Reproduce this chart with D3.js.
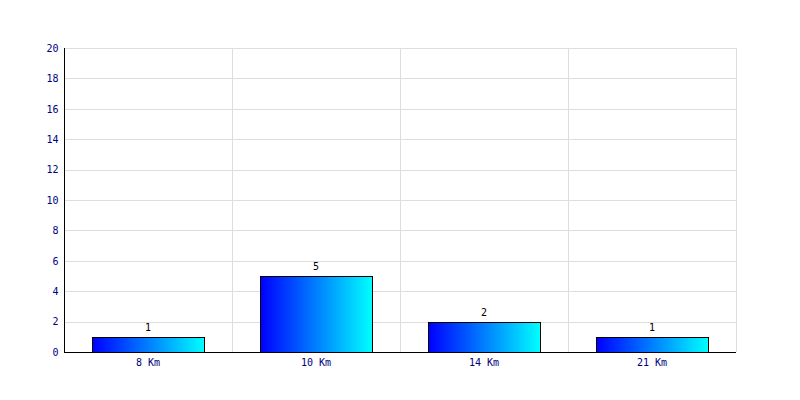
<!DOCTYPE html>
<html><head><meta charset="utf-8">
<script src="https://cdn.jsdelivr.net/npm/d3@7"></script>
<style>body{margin:0;background:#fff}svg{display:block}</style>
</head><body><svg id="c" width="800" height="400"></svg>
<script>
const categories = ["8 Km", "10 Km", "14 Km", "21 Km"];
const values = [1, 5, 2, 1];
const yTicks = [0, 2, 4, 6, 8, 10, 12, 14, 16, 18, 20];

const svg = d3.select("#c");
const L = 64, R = 736, T = 48, B = 352;
const x = d3.scaleBand().domain(categories).range([L, R]).paddingInner(0).paddingOuter(0);
const y = d3.scaleLinear().domain([0, 20]).range([B, T]);
const font = "'DejaVu Sans Mono', monospace";

const defs = svg.append("defs");
const g = defs.append("linearGradient").attr("id", "grad").attr("x1", "0").attr("x2", "1").attr("y1", "0").attr("y2", "0");
g.append("stop").attr("offset", "0").attr("stop-color", "#0000ff");
g.append("stop").attr("offset", "1").attr("stop-color", "#00ffff");

// horizontal grid
svg.append("g").selectAll("line").data(yTicks.filter(d => d > 0)).join("line")
  .attr("x1", L).attr("x2", R)
  .attr("y1", d => Math.round(y(d)) + 0.5).attr("y2", d => Math.round(y(d)) + 0.5)
  .attr("stroke", "#dddddd");
// vertical grid
const vx = categories.slice(1).map(c => x(c)).concat([R]);
svg.append("g").selectAll("line").data(vx).join("line")
  .attr("x1", d => Math.round(d) + 0.5).attr("x2", d => Math.round(d) + 0.5)
  .attr("y1", T).attr("y2", B)
  .attr("stroke", "#dddddd");

// bars
const bw = x.bandwidth() * 2 / 3;
svg.append("g").selectAll("rect").data(values).join("rect")
  .attr("x", (d, i) => Math.round(x(categories[i]) + (x.bandwidth() - bw) / 2) + 0.5)
  .attr("y", d => Math.round(y(d)) + 0.5)
  .attr("width", bw)
  .attr("height", d => Math.round(y(0)) - Math.round(y(d)))
  .attr("fill", "url(#grad)").attr("stroke", "#000").attr("stroke-width", 1);

// value labels
svg.append("g").selectAll("text").data(values).join("text")
  .attr("x", (d, i) => x(categories[i]) + x.bandwidth() / 2)
  .attr("y", d => y(d) - 6)
  .attr("text-anchor", "middle").attr("font-family", font).attr("font-size", 10)
  .attr("fill", "#000").text(d => d);

// y axis
const ya = svg.append("g").attr("transform", `translate(${L + 0.5},0)`)
  .call(d3.axisLeft(y).tickValues(yTicks).tickSize(0).tickPadding(6));
ya.select(".domain").attr("stroke", "#000").attr("d", `M0,${T}V${B + 0.5}`);
ya.selectAll("text").attr("font-family", font).attr("font-size", 10).attr("fill", "#000080");

// x axis
const xa = svg.append("g").attr("transform", `translate(0,${B + 0.5})`)
  .call(d3.axisBottom(x).tickSize(0).tickPadding(6));
xa.select(".domain").attr("stroke", "#000").attr("d", `M${L},0H${R}`);
xa.selectAll("text").attr("font-family", font).attr("font-size", 10).attr("fill", "#000080");
</script></body></html>
